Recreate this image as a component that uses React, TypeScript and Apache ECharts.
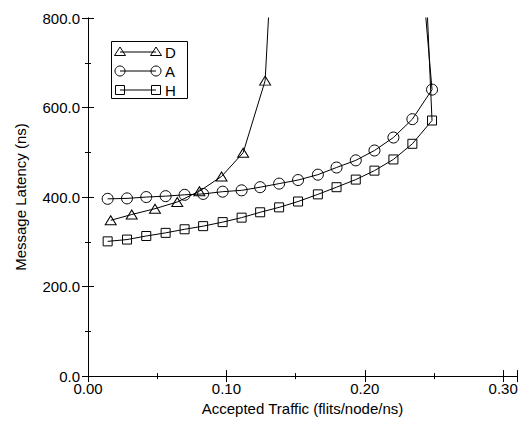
import React, { useEffect, useRef } from "react";
import * as echarts from "echarts";

const seriesNames = ["D", "A", "H"];
const yMax = 800;
// D (triangles)
const dX = [0.0164, 0.0316, 0.0484, 0.0645, 0.0805, 0.0965, 0.1121, 0.128, 0.1339];
const dY = [348, 361, 374, 389, 413, 446, 499, 660, 1000];
// A (circles)
const aX = [0.0142, 0.0282, 0.0421, 0.0561, 0.0698, 0.0832, 0.0973, 0.111, 0.1244, 0.1381, 0.1518, 0.1661, 0.1796, 0.1935, 0.207, 0.2207, 0.2344, 0.2486, 0.2386];
const aY = [396, 397, 400, 402, 405, 407, 412, 415, 422, 430, 438, 450, 466, 482, 504, 533, 574, 640, 1000];
// H (squares)
const hX = [0.0142, 0.0282, 0.0421, 0.0561, 0.0698, 0.0832, 0.0973, 0.111, 0.1244, 0.1381, 0.1518, 0.1661, 0.1796, 0.1935, 0.207, 0.2207, 0.2344, 0.2486, 0.2425];
const hY = [301, 305, 313, 320, 328, 335, 344, 354, 366, 377, 390, 406, 422, 439, 459, 484, 519, 571, 1000];

const xTickLabels = ["0.00", "0.10", "0.20", "0.30"];
const yTickLabels = ["0.0", "200.0", "400.0", "600.0", "800.0"];

const FONT = "'Liberation Sans', Arial, Helvetica, sans-serif";

function toData(xs: number[], ys: number[]) {
  return xs.map((x, i) =>
    ys[i] > yMax ? { value: [x, ys[i]], symbol: "none" } : { value: [x, ys[i]] }
  );
}

export default function App() {
  const ref = useRef<HTMLDivElement>(null);
  useEffect(() => {
    if (!ref.current) return;
    const chart = echarts.init(ref.current, null, { renderer: "svg" });
    const axisBase = {
      axisLine: { show: true, lineStyle: { color: "#000", width: 1 } },
      axisTick: { show: true, inside: true, length: 6, lineStyle: { color: "#000", width: 1 } },
      minorTick: { show: true, splitNumber: 2, length: 3, lineStyle: { color: "#000", width: 1 } },
      splitLine: { show: false },
      minorSplitLine: { show: false },
    };
    const xFmt = (v: number) => {
      const idx = Math.round(v / 0.1);
      if (Math.abs(v - idx * 0.1) > 1e-6) return "";
      return xTickLabels[idx] ?? "";
    };
    const yFmt = (v: number) => {
      const idx = Math.round(v / 200);
      if (Math.abs(v - idx * 200) > 1e-6) return "";
      return yTickLabels[idx] ?? "";
    };
    const markerStyle = { color: "transparent", borderColor: "#000", borderWidth: 1 };
    const lineStyle = { color: "#000", width: 1 };
    const legendRows = [
      { name: seriesNames[0], y: 52 },
      { name: seriesNames[1], y: 71 },
      { name: seriesNames[2], y: 90 },
    ];
    const x1 = 120, x2 = 156;
    const markerShape = (kind: number, cx: number, cy: number) => {
      const st = { fill: "transparent", stroke: "#000", lineWidth: 1 };
      if (kind === 0)
        return { type: "polygon", shape: { points: [[cx - 5.5, cy + 3.5], [cx + 5.5, cy + 3.5], [cx, cy - 5]] }, style: st };
      if (kind === 1) return { type: "circle", shape: { cx, cy, r: 5 }, style: st };
      return { type: "rect", shape: { x: cx - 4.5, y: cy - 4.5, width: 9, height: 9 }, style: st };
    };
    const graphicEls: any[] = [
      { type: "rect", shape: { x: 111.5, y: 41.5, width: 76, height: 57 }, style: { fill: "#fff", stroke: "#000", lineWidth: 1 }, z: 10 },
    ];
    legendRows.forEach((r, k) => {
      graphicEls.push({ type: "line", shape: { x1, y1: r.y, x2, y2: r.y }, style: { stroke: "#000", lineWidth: 1 }, z: 11 });
      graphicEls.push({ ...markerShape(k, x1, r.y), z: 11 });
      graphicEls.push({ ...markerShape(k, x2, r.y), z: 11 });
      graphicEls.push({
        type: "text", x: 165, y: r.y, z: 11,
        style: { text: r.name, fontSize: 15, fontFamily: FONT, fill: "#000", verticalAlign: "middle", align: "left" },
      });
    });

    chart.setOption({
      animation: false,
      backgroundColor: "#fff",
      grid: { left: 88, right: 4, top: 18, bottom: 44, containLabel: false },
      xAxis: [
        {
          type: "value", min: 0, max: 0.31, interval: 0.1, position: "bottom",
          ...axisBase,
          axisLabel: { formatter: xFmt, fontSize: 15, fontFamily: FONT, color: "#000", margin: 5, showMaxLabel: false },
          name: "Accepted Traffic (flits/node/ns)", nameLocation: "middle", nameGap: 22,
          nameTextStyle: { fontSize: 15, fontFamily: FONT, color: "#000" },
        },
        {
          type: "value", min: 0, max: 0.31, interval: 0.1, position: "top",
          ...axisBase, axisLabel: { show: false },
        },
      ],
      yAxis: [
        {
          type: "value", min: 0, max: 800, interval: 200, position: "left",
          ...axisBase,
          axisLabel: { formatter: yFmt, fontSize: 15, fontFamily: FONT, color: "#000", margin: 8 },
          name: "Message Latency (ns)", nameLocation: "middle", nameGap: 60,
          nameTextStyle: { fontSize: 15, fontFamily: FONT, color: "#000" },
        },
        {
          type: "value", min: 0, max: 800, interval: 200, position: "right",
          ...axisBase, axisLabel: { show: false },
        },
      ],
      graphic: graphicEls,
      series: [
        {
          name: seriesNames[0], type: "line", data: toData(dX, dY), clip: true,
          symbol: "triangle", symbolSize: [11, 9], itemStyle: markerStyle, lineStyle,
          showAllSymbol: true,
        },
        {
          name: seriesNames[1], type: "line", data: toData(aX, aY), clip: true,
          symbol: "circle", symbolSize: 11, itemStyle: markerStyle, lineStyle,
          showAllSymbol: true,
        },
        {
          name: seriesNames[2], type: "line", data: toData(hX, hY), clip: true,
          symbol: "rect", symbolSize: 9, itemStyle: markerStyle, lineStyle,
          showAllSymbol: true,
        },
      ],
    });
    return () => chart.dispose();
  }, []);
  return <div ref={ref} style={{ position: "fixed", left: 0, top: 0, width: 521, height: 421 }} />;
}
